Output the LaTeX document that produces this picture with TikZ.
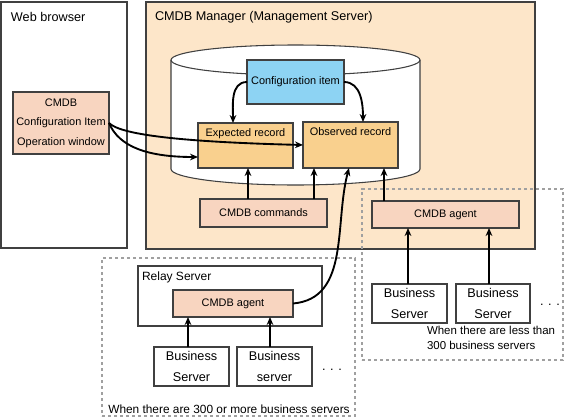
\documentclass[tikz,border=0pt]{standalone}
\usepackage{fontspec}
\setmainfont{Liberation Sans}
\usetikzlibrary{arrows.meta,calc}
\definecolor{linec}{HTML}{404040}
\definecolor{mgrfill}{HTML}{FDE6C9}
\definecolor{recfill}{HTML}{F9D08E}
\definecolor{peach}{HTML}{F8D5C0}
\definecolor{cfgblue}{HTML}{8DD3F3}
\definecolor{dashc}{HTML}{A0A0A0}
\newcommand{\mkbox}[7]{\node[#6,minimum width={(#4-#2)*0.75pt},minimum height={(#5-#3)*0.75pt}] (#1) at ({(#2+#4)/2},{(#3+#5)/2}) {#7};}
\begin{document}
\begin{tikzpicture}[x=0.75pt,y=-0.75pt,
  every node/.style={inner sep=0pt,outer sep=0pt},
  frame/.style={draw=linec,line width=0.8pt,rectangle},
  dframe/.style={draw=dashc,line width=1pt,dash pattern=on 2.5pt off 2pt,rectangle},
  big/.style={font=\fontsize{9.5pt}{11pt}\selectfont},
  mid/.style={font=\fontsize{9pt}{11pt}\selectfont},
  sml/.style={font=\fontsize{8.2pt}{14.6pt}\selectfont},
  bsv/.style={frame,fill=white,align=center,font=\fontsize{9.5pt}{16.3pt}\selectfont},
  arr/.style={draw=black,line width=1.4pt,-{Stealth[length=6pt,width=5pt]}},
]
\useasboundingbox (0,0) rectangle (567,418);
% main frames
\mkbox{web}{1}{2}{127}{248}{frame,fill=white}{}
\mkbox{mgr}{146}{2}{535}{249}{frame,fill=mgrfill}{}
\node[big,anchor=west] (webt) at (11,17) {Web browser};
\node[big,anchor=west] (mgrt) at (155,17) {CMDB Manager (Management Server)};
% cylinder
\filldraw[fill=white,draw=linec,line width=0.8pt] (171,60) -- (171,169)
  arc[start angle=180,end angle=360,x radius=93.375pt,y radius=12pt] -- (420,60)
  arc[start angle=0,end angle=180,x radius=93.375pt,y radius=11.25pt] -- cycle;
\draw[draw=linec,line width=0.8pt] (171,60) arc[start angle=180,end angle=360,x radius=93.375pt,y radius=11.25pt];
% dashed frames
\mkbox{rdash}{362}{189}{563}{360}{dframe}{}
\mkbox{ldash}{102}{258}{355}{416}{dframe}{}
% inner boxes
\mkbox{conf}{247}{60}{344}{104}{frame,fill=cfgblue,sml}{Configuration item}
\mkbox{exp}{198}{123}{293}{168}{frame,fill=recfill,label={[sml,anchor=north,yshift=-4.5pt]north:Expected record}}{}
\mkbox{obs}{303}{122}{398}{168}{frame,fill=recfill,label={[sml,anchor=north,yshift=-4.5pt]north:Observed record}}{}
\mkbox{cmd}{200}{199}{327}{227}{frame,fill=peach,sml}{CMDB commands}
\mkbox{ops}{13}{92}{109}{154}{frame,fill=peach,sml,align=center}{CMDB\\Configuration Item\\Operation window}
\mkbox{ragent}{372}{201}{519}{228}{frame,fill=peach,sml}{CMDB agent}
\mkbox{rbs1}{372}{284}{447}{323}{bsv}{Business\\Server}
\mkbox{rbs2}{456}{284}{530}{323}{bsv}{Business\\Server}
\node[big] (rdots) at (550,305) {. . .};
\node[font=\fontsize{8.6pt}{11.25pt}\selectfont,align=left,anchor=north west] (rcap) at (427,326) {When there are less than\\300 business servers};
% relay
\mkbox{relay}{138}{266}{322}{326}{frame,fill=white}{}
\node[mid,anchor=west] (relayt) at (142,277) {Relay Server};
\mkbox{lagent}{173}{290}{293}{317}{frame,fill=peach,sml}{CMDB agent}
\mkbox{lbs1}{154}{347}{229}{386}{bsv}{Business\\Server}
\mkbox{lbs2}{237}{347}{312}{386}{bsv}{Business\\server}
\node[big] (ldots) at (332,370) {. . .};
\node[font=\fontsize{8.9pt}{11pt}\selectfont] (lcap) at (229,409) {When there are 300 or more business servers};
% connectors
\coordinate (expin) at ($(exp.north west)+(35,0)$);
\coordinate (obsin) at ($(obs.north west)+(60,0)$);
\draw[arr] (conf.west) to[out=180,in=90] (expin);
\draw[arr] (conf.east) to[out=0,in=90] (obsin);
\coordinate (expw) at ($(exp.south west)+(0,-11)$);
\draw[arr] (ops.east) .. controls +(12,12) and +(-120,-3) .. (obs.west);
\draw[arr] (ops.east) .. controls +(10,24) and +(-50,0) .. (expw);
\coordinate (c1) at ($(cmd.north west)+(48,0)$);
\coordinate (c2) at ($(cmd.north west)+(114,0)$);
\draw[arr] (c1) -- (c1 |- exp.south);
\draw[arr] (c2) -- (c2 |- obs.south);
\coordinate (ra) at ($(ragent.north west)+(12,0)$);
\draw[arr] (ra) -- (ra |- obs.south);
\coordinate (rb1) at ($(rbs1.north)+(-1.5,0)$);
\coordinate (rb2) at ($(rbs2.north)+(-4,0)$);
\draw[arr] (rb1) -- (rb1 |- ragent.south);
\draw[arr] (rb2) -- (rb2 |- ragent.south);
\coordinate (lb1) at ($(lbs1.north)+(-3.5,0)$);
\coordinate (lb2) at ($(lbs2.north)+(-4.5,0)$);
\draw[arr] (lb1) -- (lb1 |- lagent.south);
\draw[arr] (lb2) -- (lb2 |- lagent.south);
\coordinate (obsb) at ($(obs.south)+(-1.5,0)$);
\draw[arr] (lagent.east) to[out=5,in=-105,looseness=1] (obsb);
\end{tikzpicture}
\end{document}
